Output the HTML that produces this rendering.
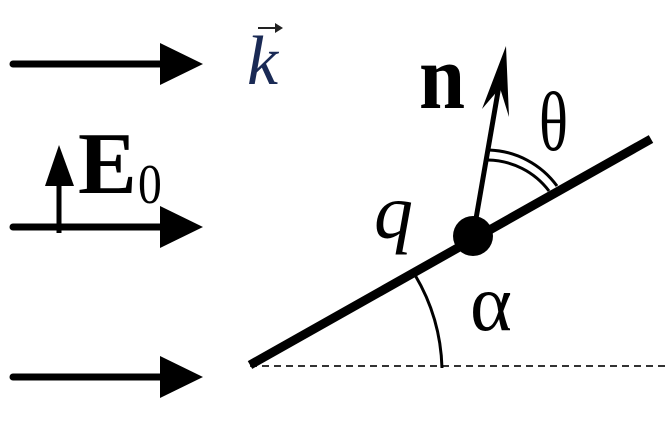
<!DOCTYPE html>
<html><head><style>
html,body{margin:0;padding:0;background:#fff;}
svg{display:block;}
</style></head><body>
<svg width="669" height="424" viewBox="0 0 669 424" xmlns="http://www.w3.org/2000/svg">
<g stroke="#000" stroke-width="7" stroke-linecap="round">
<line x1="13" y1="64" x2="165" y2="64"/>
<line x1="13" y1="227" x2="165" y2="227"/>
<line x1="13" y1="377" x2="165" y2="377"/>
</g>
<g fill="#000">
<polygon points="160,43 203,64 160,85"/>
<polygon points="160,206 203,227 160,248"/>
<polygon points="160,356 203,377 160,398"/>
</g>
<line x1="59" y1="233" x2="59" y2="180" stroke="#000" stroke-width="5"/>
<polygon points="59,145 74,186 45,186" fill="#000"/>
<text x="78" y="193" font-family="Liberation Serif, serif" font-weight="bold" font-size="88">E</text>
<text transform="translate(138,203) scale(0.85,1)" font-family="Liberation Serif, serif" font-size="56">0</text>
<text x="247" y="84" font-family="Liberation Serif, serif" font-style="italic" font-size="70" fill="#1a2a55">k</text>
<line x1="258" y1="28" x2="278" y2="28" stroke="#222" stroke-width="2"/>
<polygon points="283,28 275,23 275,33" fill="#222"/>
<line x1="250" y1="366" x2="669" y2="366" stroke="#333" stroke-width="2" stroke-dasharray="7,5"/>
<line x1="250" y1="365" x2="651" y2="139" stroke="#000" stroke-width="9"/>
<path d="M415,275 A192,192 0 0 1 442,368" fill="none" stroke="#000" stroke-width="3"/>
<line x1="473" y1="236" x2="500" y2="80" stroke="#000" stroke-width="5"/>
<polygon points="506,46 509,117 500,88 482,109" fill="#000"/>
<path d="M488,160 A78,78 0 0 1 549,191" fill="none" stroke="#000" stroke-width="3"/>
<path d="M489,150 A88,88 0 0 1 557,186" fill="none" stroke="#000" stroke-width="3"/>
<circle cx="473" cy="236" r="20" fill="#000"/>
<text transform="translate(419,108) scale(0.9,1)" font-family="Liberation Serif, serif" font-weight="bold" font-size="92">n</text>
<text transform="translate(539,150) scale(0.72,1)" font-family="Liberation Serif, serif" font-size="84">θ</text>
<text x="374" y="238" font-family="Liberation Serif, serif" font-style="italic" font-size="78">q</text>
<text x="470" y="330" font-family="Liberation Serif, serif" font-size="80">α</text>
</svg>
</body></html>
